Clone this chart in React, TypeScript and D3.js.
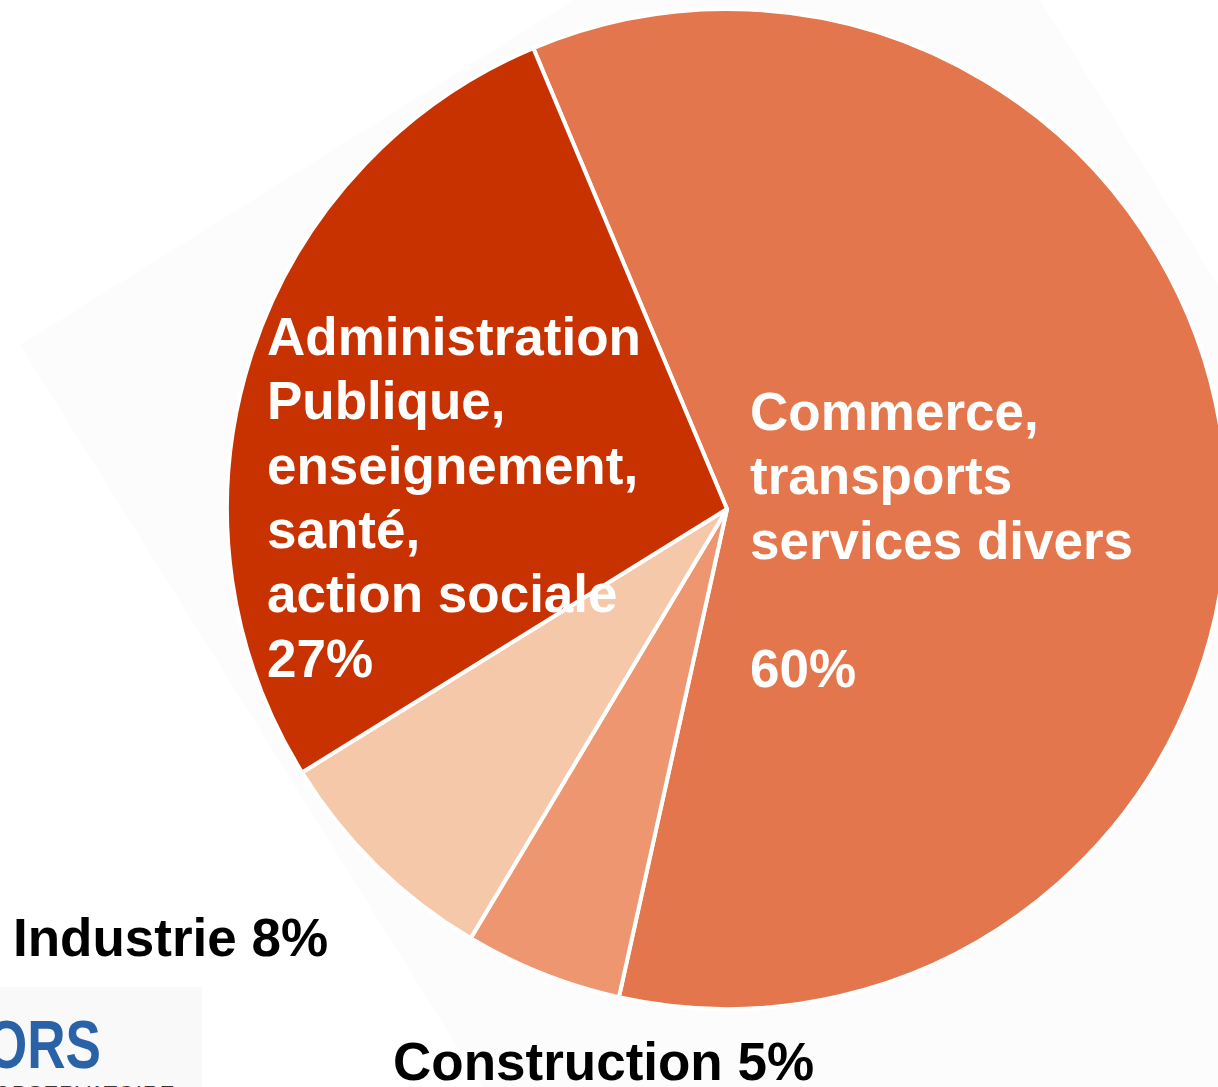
import React from "react";
import * as d3 from "d3";

const categories = ["Commerce", "Construction", "Industrie", "Administration"];
const values = [59.8, 5.1, 7.6, 27.5];
const colors = ["#E3764C", "#EE9670", "#F4C8A9", "#C83200"];

const insideLabels = [
  { lines: ["Commerce,", "transports", "services divers", "", "60%"], x: 750, y: 430 },
  { lines: ["Administration", "Publique,", "enseignement,", "santé,", "action sociale", "27%"], x: 267, y: 355 },
];
const outsideLabels = [
  { text: "Industrie 8%", x: 13, y: 956 },
  { text: "Construction 5%", x: 393, y: 1080 },
];

const W = 1218;
const H = 1087;
const CX = 727;
const CY = 509;
const R = 500;
const START = (-22.8 * Math.PI) / 180;

export default function App() {
  const pie = d3
    .pie<number>()
    .sort(null)
    .value((d) => d)
    .startAngle(START)
    .endAngle(START + 2 * Math.PI);
  const arcs = pie(values);
  const arc = d3.arc<d3.PieArcDatum<number>>().innerRadius(0).outerRadius(R);

  // faint rotated background square (slide backdrop)
  const L = [20, 345];
  const u = [0.849, -0.529];
  const v = [0.529, 0.849];
  const su = 1048;
  const sv = 1500;
  const bg = [
    L,
    [L[0] + u[0] * su, L[1] + u[1] * su],
    [L[0] + u[0] * su + v[0] * sv, L[1] + u[1] * su + v[1] * sv],
    [L[0] + v[0] * sv, L[1] + v[1] * sv],
  ]
    .map((p) => p.join(","))
    .join(" ");

  const font = "'Liberation Sans', Arial, sans-serif";

  return (
    <svg
      width={W}
      height={H}
      style={{ position: "absolute", left: 0, top: 0, background: "#ffffff" }}
    >
      <polygon points={bg} fill="#fcfcfc" />
      <rect x={0} y={987} width={202} height={100} fill="#f9f9f9" />
      <g transform={`translate(${CX},${CY})`}>
        {arcs.map((a, i) => (
          <path
            key={categories[i]}
            d={arc(a) || ""}
            fill={colors[i]}
            stroke="#ffffff"
            strokeWidth={4}
            strokeLinejoin="round"
          />
        ))}
      </g>
      {insideLabels.map((lab, k) => (
        <text
          key={k}
          x={lab.x}
          y={lab.y}
          fill="#ffffff"
          fontFamily={font}
          fontWeight="bold"
          fontSize={53}
        >
          {lab.lines.map((ln, j) => (
            <tspan key={j} x={lab.x} y={lab.y + j * 64.3}>
              {ln}
            </tspan>
          ))}
        </text>
      ))}
      {outsideLabels.map((lab, k) => (
        <text
          key={k}
          x={lab.x}
          y={lab.y}
          fill="#000000"
          fontFamily={font}
          fontWeight="bold"
          fontSize={53}
        >
          {lab.text}
        </text>
      ))}
      <text
        transform="translate(-14,1068) scale(0.78,1)"
        fill="#2A62A8"
        fontFamily={font}
        fontWeight="bold"
        fontSize={68}
      >
        ORS
      </text>
      <text
        x={-6}
        y={1101}
        fill="#333333"
        fontFamily={font}
        fontSize={22}
        letterSpacing={1}
      >
        OBSERVATOIRE
      </text>
    </svg>
  );
}
